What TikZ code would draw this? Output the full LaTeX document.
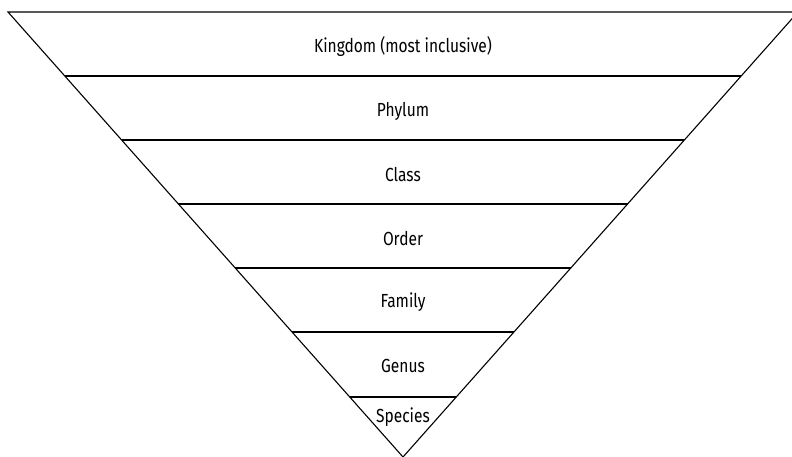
\documentclass[tikz,border=0pt]{standalone}
\usepackage{fontspec}
\setmainfont[FakeStretch=0.82]{Fira Sans}
\usetikzlibrary{calc}
\begin{document}
\begin{tikzpicture}[x=1bp,y=-1bp,
  edge/.style={draw=black,line width=1.1bp},
  lab/.style={font=\fontsize{19}{21}\selectfont,inner sep=0pt,anchor=center}]
\useasboundingbox (0,0) rectangle (792,457);
\coordinate (tl) at (8,12);
\coordinate (tr) at (798,12);
\coordinate (ap) at (403,457);
\draw[edge,line join=miter] (tl) -- (tr) -- (ap) -- cycle;
\foreach \y/\n in {76/a,140/b,204/c,268/d,332/e,397/f}{
  \pgfmathsetmacro{\t}{(\y-12)/445}
  \draw[edge] ($(tl)!\t!(ap)$) coordinate (l\n) -- ($(tr)!\t!(ap)$) coordinate (r\n);
}
\node[lab] (kingdom) at (403,47) {Kingdom (most inclusive)};
\node[lab] (phylum) at (403,111) {Phylum};
\node[lab] (class) at (403,175) {Class};
\node[lab] (order) at (403,239) {Order};
\node[lab] (family) at (403,302) {Family};
\node[lab] (genus) at (403,366) {Genus};
\node[lab] (species) at (403,417) {Species};
\end{tikzpicture}
\end{document}
